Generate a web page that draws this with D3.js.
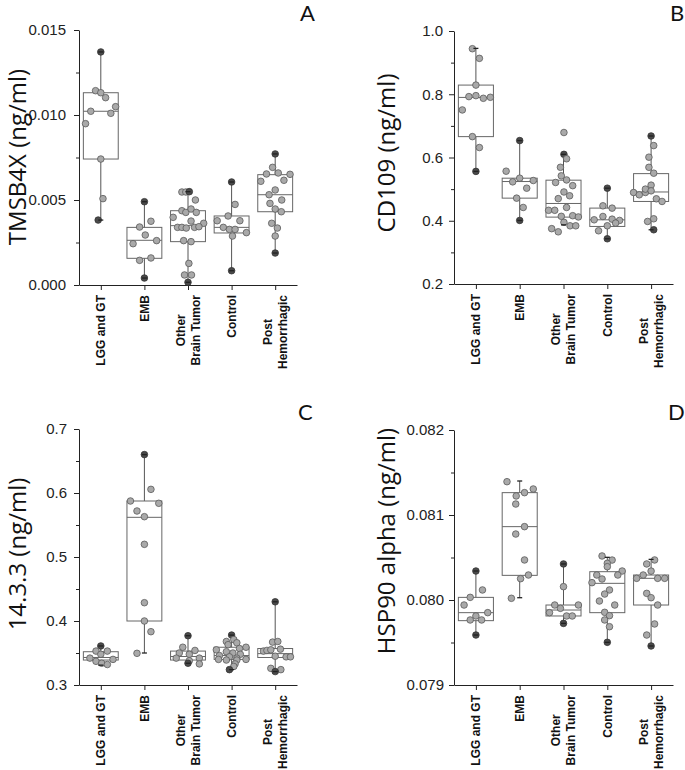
<!DOCTYPE html>
<html><head><meta charset="utf-8">
<script src="https://cdn.jsdelivr.net/npm/d3@7"></script>
<style>body{margin:0;background:#fff}svg{display:block}</style>
</head><body><svg id="c" width="685" height="770"></svg>
<script>
// ---------- DATA ----------
const categories = ["LGG and GT", "EMB", "Other\nBrain Tumor", "Control", "Post\nHemorrhagic"];

// box rows: [whisker low, Q1, median, Q3, whisker high]
const tmsb4xBox = [
  [0.00382, 0.00741, 0.01022, 0.01131, 0.01371],
  [0.00041, 0.00157, 0.00263, 0.00339, 0.00490],
  [0.00016, 0.00255, 0.00349, 0.00437, 0.00549],
  [0.00084, 0.00306, 0.00339, 0.00406, 0.00606],
  [0.00188, 0.00431, 0.00531, 0.00649, 0.00771]
];
const tmsb4xValues = [
  [0.01371, 0.01143, 0.01131, 0.01102, 0.01049, 0.01022, 0.01010, 0.00949, 0.00741, 0.00508, 0.00382],
  [0.00490, 0.00375, 0.00341, 0.00294, 0.00261, 0.00243, 0.00159, 0.00145, 0.00041],
  [0.00547, 0.00547, 0.00549, 0.00500, 0.00437, 0.00427, 0.00447, 0.00427, 0.00398, 0.00376, 0.00363, 0.00339, 0.00339, 0.00335, 0.00339, 0.00343, 0.00261, 0.00255, 0.00127, 0.00059, 0.00059, 0.00016],
  [0.00606, 0.00474, 0.00406, 0.00378, 0.00378, 0.00339, 0.00327, 0.00327, 0.00308, 0.00288, 0.00084],
  [0.00771, 0.00692, 0.00659, 0.00653, 0.00651, 0.00616, 0.00610, 0.00559, 0.00531, 0.00500, 0.00480, 0.00447, 0.00431, 0.00363, 0.00335, 0.00288, 0.00188]
];
const tmsb4xJitter = [
  [0, -0.12, 0, 0.11, 0.34, -0.23, 0.23, -0.35, 0, 0.05, -0.06],
  [0, 0.15, -0.11, 0.02, 0.28, -0.26, 0.15, -0.11, 0],
  [-0.14, -0.05, 0.03, 0.17, -0.14, -0.05, 0.07, 0.19, -0.34, 0.07, 0.36, -0.24, -0.14, -0.04, 0.15, 0.25, -0.10, 0.07, 0.02, -0.08, 0.08, 0],
  [0, 0.08, -0.08, 0.19, -0.33, -0.19, -0.05, 0.08, 0.34, 0.02, 0],
  [0, -0.06, 0.07, -0.20, 0.34, 0.20, -0.33, 0, -0.14, 0.15, -0.12, 0, 0.14, -0.08, 0.05, 0, 0]
];
const tmsb4xTicks = [0, 0.005, 0.010, 0.015];
const tmsb4xMinor = [0.0025, 0.0075, 0.0125];

const cd109Box = [
  [0.556, 0.666, 0.790, 0.829, 0.945],
  [0.401, 0.4715, 0.524, 0.5346, 0.6535],
  [0.387, 0.4115, 0.4546, 0.5283, 0.610],
  [0.343, 0.382, 0.403, 0.440, 0.503],
  [0.3715, 0.461, 0.491, 0.549, 0.668]
];
const cd109Values = [
  [0.944, 0.9135, 0.829, 0.7925, 0.7956, 0.7872, 0.7904, 0.7504, 0.666, 0.6315, 0.556],
  [0.6535, 0.5567, 0.5346, 0.523, 0.5272, 0.503, 0.4715, 0.442, 0.401],
  [0.679, 0.610, 0.596, 0.569, 0.542, 0.529, 0.521, 0.511, 0.491, 0.479, 0.470, 0.442, 0.433, 0.433, 0.414, 0.416, 0.412, 0.395, 0.384, 0.384, 0.375, 0.365],
  [0.503, 0.4472, 0.4399, 0.4135, 0.403, 0.405, 0.401, 0.3926, 0.3841, 0.3683, 0.343],
  [0.668, 0.6377, 0.601, 0.569, 0.5504, 0.5125, 0.4893, 0.482, 0.4893, 0.500, 0.4946, 0.4694, 0.461, 0.3978, 0.4062, 0.3715]
];
const cd109Jitter = [
  [-0.08, 0.08, 0, -0.16, 0, 0.17, 0.33, -0.31, -0.08, 0.08, 0],
  [0, -0.31, 0, -0.16, 0.31, 0.16, -0.07, 0.08, 0],
  [0.01, 0.01, 0.07, -0.07, -0.05, 0.07, -0.18, 0.21, 0.01, 0.14, -0.12, 0.07, -0.34, -0.20, -0.05, 0.21, 0.34, 0.01, 0.15, 0.28, -0.27, -0.12],
  [0, -0.10, 0.11, -0.10, -0.30, 0.11, 0.28, 0.19, 0, -0.20, 0],
  [0, 0.06, -0.05, -0.05, 0.06, 0, -0.40, -0.27, -0.13, -0.13, 0, 0.12, 0.25, -0.08, 0.06, 0.06]
];
const cd109Ticks = [0.2, 0.4, 0.6, 0.8, 1.0];
const cd109Minor = [0.3, 0.5, 0.7, 0.9];

const p1433Box = [
  [0.331, 0.339, 0.343, 0.352, 0.361],
  [0.350, 0.400, 0.562, 0.5875, 0.660],
  [0.334, 0.339, 0.3445, 0.353, 0.377],
  [0.324, 0.340, 0.346, 0.359, 0.378],
  [0.321, 0.343, 0.349, 0.357, 0.430]
];
const p1433Values = [
  [0.361, 0.353, 0.353, 0.348, 0.342, 0.340, 0.337, 0.334, 0.332],
  [0.660, 0.6057, 0.5875, 0.5839, 0.5719, 0.563, 0.5198, 0.4286, 0.400, 0.3833, 0.3495],
  [0.377, 0.359, 0.354, 0.350, 0.348, 0.342, 0.342, 0.338, 0.334, 0.333],
  [0.378, 0.371, 0.368, 0.366, 0.363, 0.359, 0.357, 0.355, 0.352, 0.350, 0.348, 0.346, 0.344, 0.342, 0.340, 0.339, 0.339, 0.340, 0.333, 0.329, 0.324],
  [0.430, 0.367, 0.368, 0.356, 0.353, 0.354, 0.355, 0.345, 0.344, 0.344, 0.326, 0.324, 0.321]
];
const p1433Jitter = [
  [0, -0.11, 0.15, 0, -0.25, 0.28, -0.11, 0.02, 0.15],
  [0, 0.15, -0.32, 0.33, -0.17, 0, 0, 0, 0, 0.15, -0.17],
  [0, -0.12, 0.16, -0.20, 0.03, -0.27, 0.26, 0.03, 0, 0.26],
  [0, 0.05, -0.12, 0.12, -0.08, 0.33, 0.18, -0.35, -0.12, 0.03, 0.20, -0.28, -0.05, 0.12, -0.30, -0.12, 0.12, 0.33, 0.08, 0.05, -0.05],
  [0, -0.06, 0.06, 0.12, -0.27, -0.19, -0.10, 0, 0.25, 0.35, -0.10, 0.13, 0]
];
const p1433Ticks = [0.3, 0.4, 0.5, 0.6, 0.7];
const p1433Minor = [0.35, 0.45, 0.55, 0.65];

const hspBox = [
  [0.079588, 0.079757, 0.079851, 0.080031, 0.080341],
  [0.080027, 0.080290, 0.080863, 0.081263, 0.081400],
  [0.079725, 0.079812, 0.079882, 0.079941, 0.080424],
  [0.079502, 0.079851, 0.080196, 0.080333, 0.080502],
  [0.079459, 0.079941, 0.080255, 0.080294, 0.080478]
];
const hspValues = [
  [0.080341, 0.080118, 0.080031, 0.079941, 0.079851, 0.079812, 0.079765, 0.079765, 0.079588],
  [0.081392, 0.081306, 0.081263, 0.081224, 0.081129, 0.080863, 0.080776, 0.080471, 0.080294, 0.080251, 0.080020],
  [0.080424, 0.080157, 0.079941, 0.079941, 0.079902, 0.079851, 0.079812, 0.079812, 0.079725],
  [0.080518, 0.080470, 0.080431, 0.080392, 0.080341, 0.080294, 0.080294, 0.080247, 0.080204, 0.080118, 0.080070, 0.079988, 0.079941, 0.079855, 0.079816, 0.079765, 0.079686, 0.079502],
  [0.080471, 0.080424, 0.080340, 0.080294, 0.080255, 0.080255, 0.080255, 0.080078, 0.080027, 0.079941, 0.079718, 0.079588, 0.079459]
];
const hspJitter = [
  [0, 0.15, -0.13, -0.27, 0.27, 0, -0.13, 0.13, 0],
  [-0.29, 0.31, 0.11, -0.08, -0.09, 0.11, -0.09, 0.11, 0.20, 0.02, -0.19],
  [0, 0, -0.20, 0.34, -0.07, -0.32, 0.07, 0.20, 0],
  [-0.12, 0.11, 0, 0, 0.34, 0.24, -0.24, -0.12, -0.35, 0.05, -0.06, -0.18, 0.17, -0.06, 0.05, -0.06, 0.05, 0],
  [0.08, -0.10, 0, -0.18, -0.33, 0.15, 0.31, -0.10, 0, 0.15, 0.08, -0.10, 0]
];
const hspTicks = [0.079, 0.080, 0.081, 0.082];
const hspMinor = [0.0795, 0.0805, 0.0815];

// ---------- LAYOUT ----------
const panels = [
  {letter: "A", title: "TMSB4X (ng/ml)", box: tmsb4xBox, values: tmsb4xValues, jitter: tmsb4xJitter,
   ticks: tmsb4xTicks, minor: tmsb4xMinor, fmt: ".3f",
   left: 79, right: 297, top: 30, bottom: 285, titleX: 26, titleY: 157, letterX: 300, letterY: 21, pad: 8},
  {letter: "B", title: "CD109 (ng/ml)", box: cd109Box, values: cd109Values, jitter: cd109Jitter,
   ticks: cd109Ticks, minor: cd109Minor, fmt: ".1f",
   left: 454, right: 673, top: 31, bottom: 284, titleX: 395, titleY: 153, letterX: 670, letterY: 21, pad: 6},
  {letter: "C", title: "14.3.3 (ng/ml)", box: p1433Box, values: p1433Values, jitter: p1433Jitter,
   ticks: p1433Ticks, minor: p1433Minor, fmt: ".1f",
   left: 79, right: 297, top: 429, bottom: 685, titleX: 26, titleY: 554, letterX: 298, letterY: 420, pad: 7},
  {letter: "D", title: "HSP90 alpha (ng/ml)", box: hspBox, values: hspValues, jitter: hspJitter,
   ticks: hspTicks, minor: hspMinor, fmt: ".3f",
   left: 454, right: 673, top: 430, bottom: 685, titleX: 395, titleY: 541, letterX: 668, letterY: 420, pad: 5}
];

const svg = d3.select("#c");
const AX = "#222";

panels.forEach(p => {
  const g = svg.append("g");
  const ext = d3.extent(p.ticks);
  const y = d3.scaleLinear().domain(ext).range([p.bottom, p.top]);
  const x = d3.scaleLinear().domain([0.5, categories.length + 0.5]).range([p.left, p.right]);
  const boxW = x(1.4) - x(0.6);

  // y axis (major)
  const ya = g.append("g").attr("transform", `translate(${p.left},0)`)
    .call(d3.axisLeft(y).tickValues(p.ticks).tickFormat(d3.format(p.fmt)).tickSize(5).tickSizeOuter(0).tickPadding(p.pad));
  ya.select(".domain").attr("stroke", AX);
  ya.selectAll(".tick line").attr("stroke", AX);
  ya.selectAll(".tick text").attr("font-family", "'Liberation Sans', Arial, sans-serif")
    .attr("font-size", 15).attr("fill", "#222");
  // y axis minor
  const ym = g.append("g").attr("transform", `translate(${p.left},0)`)
    .call(d3.axisLeft(y).tickValues(p.minor).tickFormat("").tickSize(3).tickSizeOuter(0));
  ym.select(".domain").remove();
  ym.selectAll(".tick line").attr("stroke", AX);

  // x axis
  const xa = g.append("g").attr("transform", `translate(0,${p.bottom})`)
    .call(d3.axisBottom(x).tickValues(d3.range(1, categories.length + 1)).tickFormat("").tickSize(5).tickSizeOuter(0));
  xa.select(".domain").attr("stroke", AX);
  xa.selectAll(".tick line").attr("stroke", AX);

  // category labels
  categories.forEach((c, i) => {
    const lines = c.split("\n");
    const lg = g.append("g").attr("transform", `translate(${x(i + 1)},${p.bottom + 10}) rotate(-90)`);
    const texts = lines.map((ln, k) => lg.append("text")
      .attr("font-family", "'Liberation Sans', Arial, sans-serif")
      .attr("font-weight", "bold").attr("font-size", 12).attr("fill", "#111")
      .attr("text-anchor", "middle")
      .attr("y", (k - (lines.length - 1) / 2) * 15)
      .attr("dy", "0.35em")
      .text(ln));
    const maxW = d3.max(texts, t => t.node().getComputedTextLength());
    texts.forEach(t => t.attr("x", -maxW / 2));
  });

  // boxes
  p.box.forEach((b, i) => {
    const cx = x(i + 1);
    const [lo, q1, med, q3, hi] = b;
    g.append("line").attr("x1", cx).attr("x2", cx).attr("y1", y(q3)).attr("y2", y(hi)).attr("stroke", "#555").attr("stroke-width", 1);
    g.append("line").attr("x1", cx).attr("x2", cx).attr("y1", y(q1)).attr("y2", y(lo)).attr("stroke", "#555").attr("stroke-width", 1);
    g.append("rect").attr("x", cx - boxW / 2).attr("y", y(q3)).attr("width", boxW).attr("height", y(q1) - y(q3))
      .attr("fill", "none").attr("stroke", "#666").attr("stroke-width", 1);
    g.append("line").attr("x1", cx - boxW / 2).attr("x2", cx + boxW / 2).attr("y1", y(med)).attr("y2", y(med))
      .attr("stroke", "#666").attr("stroke-width", 1);
  });

  // points
  p.values.forEach((vals, i) => {
    const [lo, , , , hi] = p.box[i];
    vals.forEach((v, k) => {
      const dark = Math.abs(v - lo) < 1e-9 || Math.abs(v - hi) < 1e-9;
      g.append("circle").attr("cx", x(i + 1 + p.jitter[i][k])).attr("cy", y(v)).attr("r", 3.3)
        .attr("fill", dark ? "#4a4a4a" : "#a9a9a9").attr("stroke", dark ? "#333" : "#5a5a5a").attr("stroke-width", 0.8);
    });
  });

  // whisker end dashes
  p.box.forEach((b, i) => {
    const cx = x(i + 1);
    [b[0], b[4]].forEach(v => {
      g.append("line").attr("x1", cx - 2.5).attr("x2", cx + 2.5).attr("y1", y(v)).attr("y2", y(v))
        .attr("stroke", "#222").attr("stroke-width", 1.3);
    });
  });

  // y title
  g.append("text").attr("transform", `translate(${p.titleX},${p.titleY}) rotate(-90)`)
    .attr("text-anchor", "middle").attr("font-family", "'Open Sans', 'Liberation Sans', sans-serif")
    .attr("font-size", 24).attr("fill", "#111").text(p.title);

  // panel letter
  g.append("text").attr("x", p.letterX).attr("y", p.letterY)
    .attr("font-family", "Lato, 'Open Sans', sans-serif").attr("font-size", 22).attr("fill", "#111").text(p.letter);
});
</script></body></html>
